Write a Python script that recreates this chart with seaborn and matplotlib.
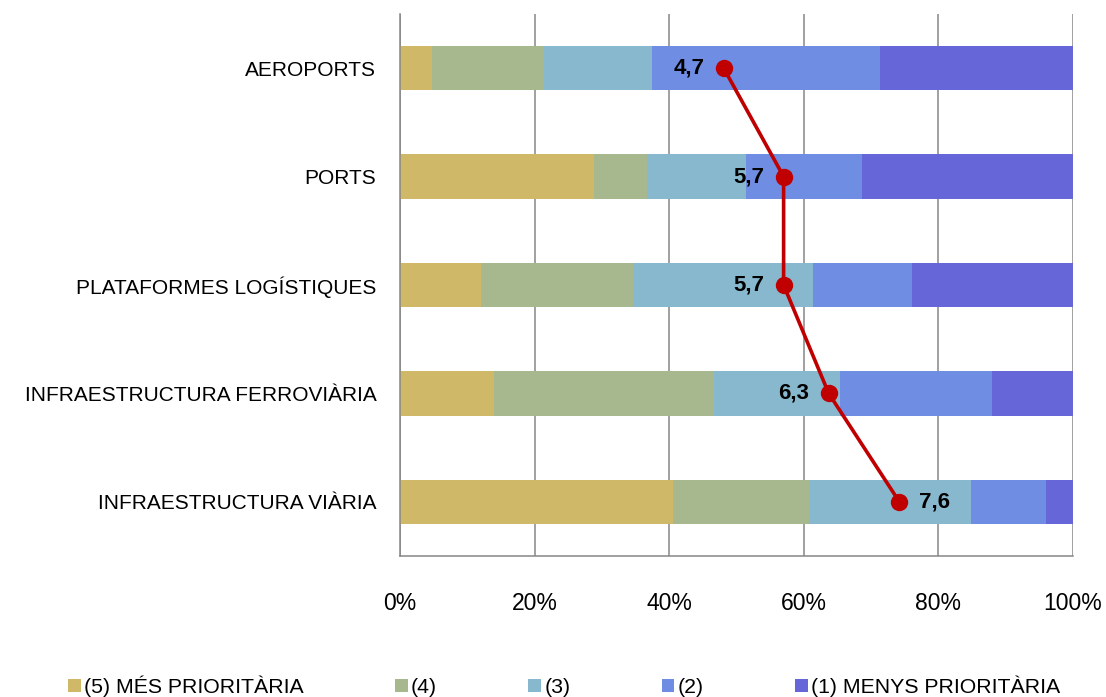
import numpy as np
import pandas as pd
import matplotlib
matplotlib.use("Agg")
import matplotlib.pyplot as plt
import seaborn as sns
from matplotlib.patches import Patch

# Data
categories = ['AEROPORTS', 'PORTS', 'PLATAFORMES LOGÍSTIQUES',
              'INFRAESTRUCTURA FERROVIÀRIA', 'INFRAESTRUCTURA VIÀRIA']
series_names = ['(5) MÉS PRIORITÀRIA', '(4)', '(3)', '(2)', '(1) MENYS PRIORITÀRIA']
p5 = [4.7, 28.8, 12.0, 14.0, 40.6]
p4 = [16.7, 7.9, 22.6, 32.7, 20.1]
p3 = [16.1, 14.7, 26.8, 18.7, 24.1]
p2 = [33.8, 17.3, 14.7, 22.6, 11.2]
p1 = [28.7, 31.3, 23.9, 12.0, 4.0]
# mean score shown as red line (label) and its position on the percent axis
score_labels = ['4,7', '5,7', '5,7', '6,3', '7,6']
score_pos = [48.1, 57.0, 57.0, 63.7, 74.2]

colors = ['#CFB968', '#A7B88E', '#87B8CE', '#6F8DE2', '#6666D8']

df = pd.DataFrame({'Category': categories, series_names[0]: p5, series_names[1]: p4,
                   series_names[2]: p3, series_names[3]: p2, series_names[4]: p1})
cum = df[series_names].cumsum(axis=1)

sns.set_style('white')
plt.rcParams['font.family'] = ['Liberation Sans', 'DejaVu Sans']
plt.rcParams['text.color'] = 'black'
plt.rcParams['xtick.labelcolor'] = 'black'
plt.rcParams['ytick.labelcolor'] = 'black'

fig = plt.figure(figsize=(11.06, 6.97), dpi=100)
ax = fig.add_axes([400 / 1106, 1 - 556 / 697, 673 / 1106, 542 / 697])

# stacked bars: draw the cumulative totals from the back forward
for name, col in reversed(list(zip(series_names, colors))):
    sns.barplot(x=cum[name], y=df['Category'], color=col, width=0.41, saturation=1,
                orient='h', ax=ax, zorder=2, linewidth=0)

ypos = np.arange(len(categories))
ax.plot(score_pos, ypos, color='#C00000', lw=2.6, marker='o', ms=11.5, zorder=4)
for i, (lab, x) in enumerate(zip(score_labels, score_pos)):
    if i == len(categories) - 1:
        ax.text(x + 2.9, i, lab, ha='left', va='center', fontsize=16,
                fontweight='bold', zorder=5)
    else:
        ax.text(x - 2.9, i, lab, ha='right', va='center', fontsize=16,
                fontweight='bold', zorder=5)

ax.set_xlim(0, 100)
ax.set_ylim(4.5, -0.5)
ax.set_xticks(np.arange(0, 101, 20))
ax.set_xticklabels([f'{v}%' for v in range(0, 101, 20)])
ax.set_xlabel('')
ax.set_ylabel('')
ax.grid(axis='x', color='#868686', lw=1.1, zorder=0)
ax.set_axisbelow(True)

for s in ['top', 'right']:
    ax.spines[s].set_visible(False)
for s in ['left', 'bottom']:
    ax.spines[s].set_color('#868686')
    ax.spines[s].set_linewidth(1.1)

ax.tick_params(axis='x', direction='out', length=5, width=1.1, color='#868686',
               labelsize=16.5, pad=21)
ax.tick_params(axis='y', which='major', length=0, labelsize=15, pad=17)
ax.set_yticks(np.arange(-0.5, 5, 1), minor=True)
ax.tick_params(axis='y', which='minor', direction='out', length=6, width=1.1,
               color='#868686')

handles = [Patch(facecolor=c, edgecolor='none') for c in colors]
fig.legend(handles, series_names, loc='center', bbox_to_anchor=(0.51, 1 - 686 / 697),
           ncol=5, frameon=False, fontsize=15.3, handlelength=0.6, handleheight=0.6,
           handletextpad=0.15, columnspacing=4.3)

fig.savefig('out.png', dpi=100)
